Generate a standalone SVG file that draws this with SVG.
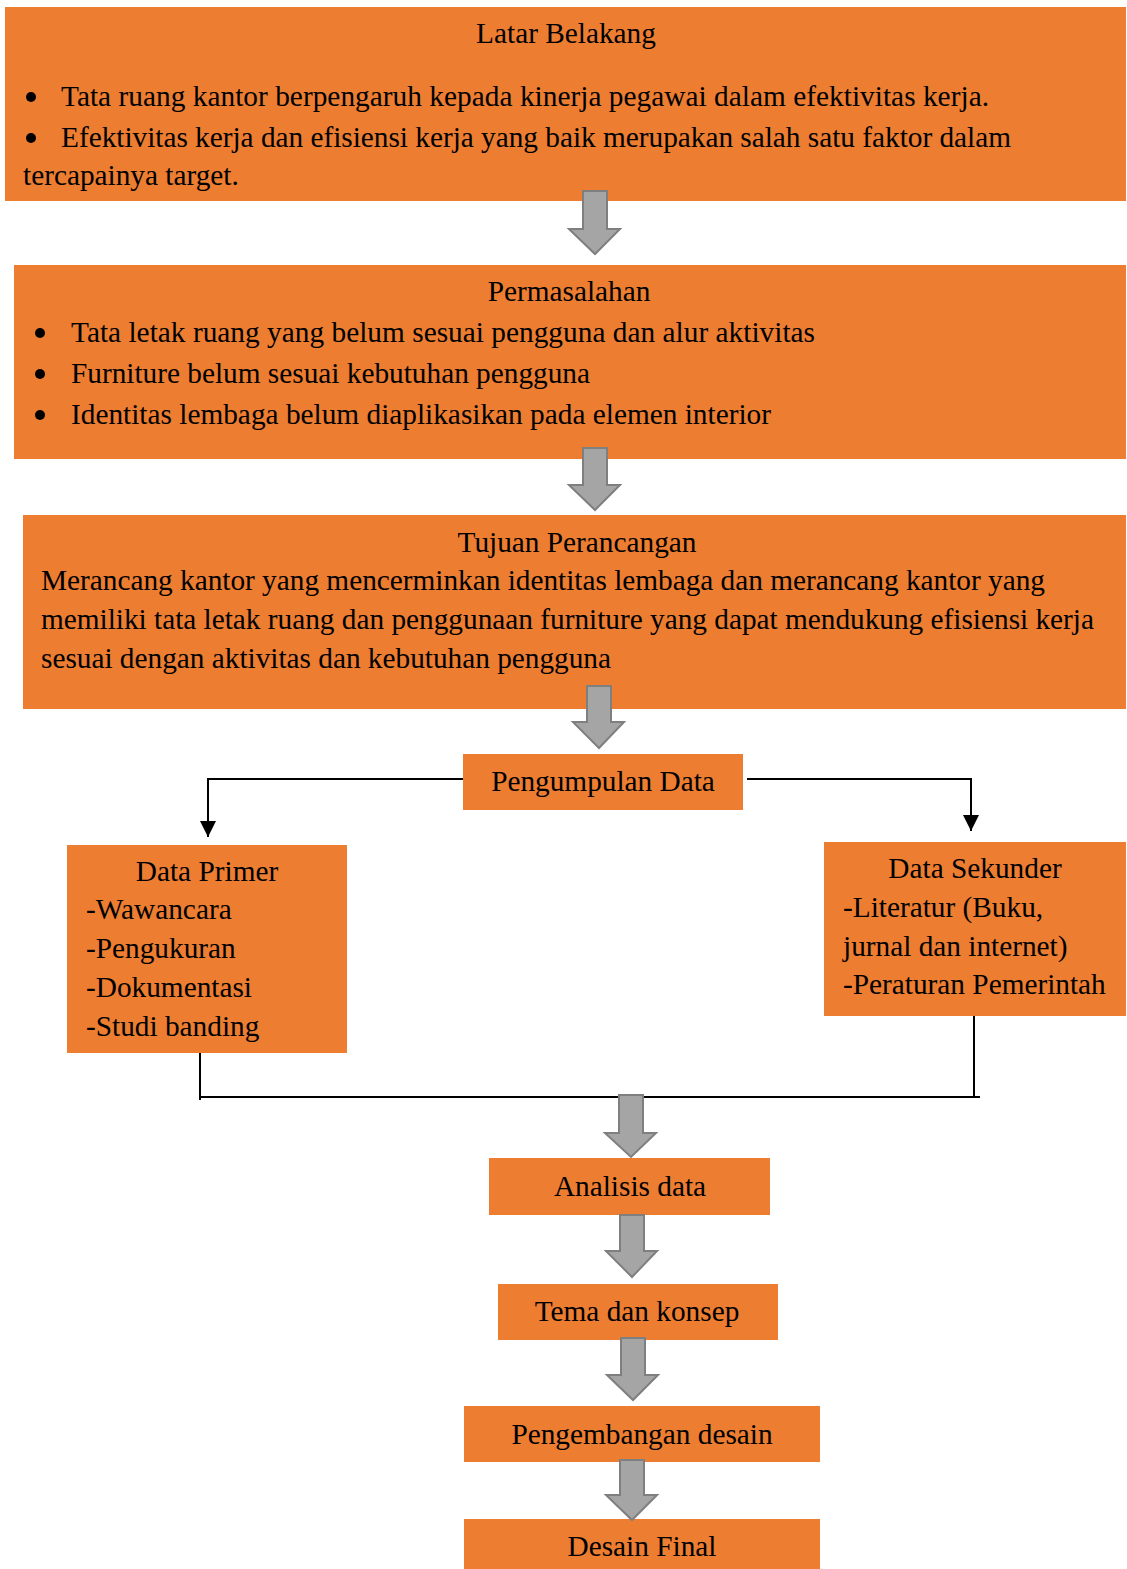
<svg xmlns="http://www.w3.org/2000/svg" width="1127" height="1569" viewBox="0 0 1127 1569">
<defs>
<style>
.box{fill:#ED7D31;}
.t{font-family:"Liberation Serif","Times New Roman",serif;font-size:29.3px;fill:#000;}
.c{text-anchor:middle;}
.bul{fill:#000;}
.blk{fill:#A5A5A5;stroke:#7F7F7F;stroke-width:2;}
.ln{stroke:#000;stroke-width:2;fill:none;}
</style>
<marker id="ah" markerWidth="16" markerHeight="16" refX="16" refY="8" orient="auto" markerUnits="userSpaceOnUse" viewBox="0 0 16 16">
<path d="M0,0 L16,8 L0,16 Z" fill="#000"/>
</marker>
</defs>
<rect width="1127" height="1569" fill="#fff"/>

<g id="latar-belakang">
<rect class="box" x="5" y="7" width="1121" height="194"/>
<text class="t c" x="566" y="43">Latar Belakang</text>
<circle class="bul" cx="31" cy="97" r="5"/>
<text class="t" x="61" y="106" textLength="928" lengthAdjust="spacing">Tata ruang kantor berpengaruh kepada kinerja pegawai dalam efektivitas kerja.</text>
<circle class="bul" cx="31" cy="138" r="5"/>
<text class="t" x="61" y="147" textLength="950" lengthAdjust="spacing">Efektivitas kerja dan efisiensi kerja yang baik merupakan salah satu faktor dalam</text>
<text class="t" x="23" y="185">tercapainya target.</text>
</g>

<g id="permasalahan">
<rect class="box" x="14" y="265" width="1112" height="194"/>
<text class="t c" x="569" y="301">Permasalahan</text>
<circle class="bul" cx="40" cy="333" r="5"/>
<text class="t" x="71" y="342" textLength="744" lengthAdjust="spacing">Tata letak ruang yang belum sesuai pengguna dan alur aktivitas</text>
<circle class="bul" cx="40" cy="374" r="5"/>
<text class="t" x="71" y="383" textLength="519" lengthAdjust="spacing">Furniture belum sesuai kebutuhan pengguna</text>
<circle class="bul" cx="40" cy="415" r="5"/>
<text class="t" x="71" y="424" textLength="700" lengthAdjust="spacing">Identitas lembaga belum diaplikasikan pada elemen interior</text>
</g>

<g id="tujuan-perancangan">
<rect class="box" x="23" y="515" width="1103" height="194"/>
<text class="t c" x="577" y="552">Tujuan Perancangan</text>
<text class="t" x="41" y="590" textLength="1004" lengthAdjust="spacing">Merancang kantor yang mencerminkan identitas lembaga dan merancang kantor yang</text>
<text class="t" x="41" y="629" textLength="1053" lengthAdjust="spacing">memiliki tata letak ruang dan penggunaan furniture yang dapat mendukung efisiensi kerja</text>
<text class="t" x="41" y="668" textLength="570" lengthAdjust="spacing">sesuai dengan aktivitas dan kebutuhan pengguna</text>
</g>

<g id="pengumpulan-data">
<rect class="box" x="463" y="754" width="280" height="56"/>
<text class="t c" x="603" y="791">Pengumpulan Data</text>
</g>

<g id="data-primer">
<rect class="box" x="67" y="845" width="280" height="208"/>
<text class="t c" x="207" y="881">Data Primer</text>
<text class="t" x="86" y="919">-Wawancara</text>
<text class="t" x="86" y="958">-Pengukuran</text>
<text class="t" x="86" y="997">-Dokumentasi</text>
<text class="t" x="86" y="1036">-Studi banding</text>
</g>

<g id="data-sekunder">
<rect class="box" x="824" y="842" width="302" height="174"/>
<text class="t c" x="975" y="878">Data Sekunder</text>
<text class="t" x="843" y="917">-Literatur (Buku,</text>
<text class="t" x="843" y="956">jurnal dan internet)</text>
<text class="t" x="843" y="994">-Peraturan Pemerintah</text>
</g>

<g id="analisis-data">
<rect class="box" x="489" y="1158" width="281" height="57"/>
<text class="t c" x="630" y="1196">Analisis data</text>
</g>

<g id="tema-dan-konsep">
<rect class="box" x="498" y="1284" width="280" height="56"/>
<text class="t c" x="637" y="1321">Tema dan konsep</text>
</g>

<g id="pengembangan-desain">
<rect class="box" x="464" y="1406" width="356" height="56"/>
<text class="t c" x="642" y="1444">Pengembangan desain</text>
</g>

<g id="desain-final">
<rect class="box" x="464" y="1519" width="356" height="50"/>
<text class="t c" x="642" y="1556">Desain Final</text>
</g>

<g id="connectors">
<path class="blk" d="M583,191 H607 V229 H620 L595,254 L569,229 H583 Z"/>
<path class="blk" d="M583,448 H607 V485 H620 L595,510 L569,485 H583 Z"/>
<path class="blk" d="M587,686 H611 V722 H624 L599,748 L573,722 H587 Z"/>
<path class="ln" d="M463,779 H208 V837" marker-end="url(#ah)"/>
<path class="ln" d="M747,779 H971 V831" marker-end="url(#ah)"/>
<path class="ln" d="M200,1053 V1100"/>
<path class="ln" d="M974,1016 V1097"/>
<path class="ln" d="M200,1097 H980"/>
<path class="blk" d="M619,1095 H643 V1133 H656 L631,1157 L605,1133 H619 Z"/>
<path class="blk" d="M620,1215 H644 V1251 H657 L632,1277 L606,1251 H620 Z"/>
<path class="blk" d="M621,1338 H645 V1375 H658 L633,1400 L607,1375 H621 Z"/>
<path class="blk" d="M620,1460 H644 V1495 H657 L632,1520 L606,1495 H620 Z"/>
</g>
</svg>
